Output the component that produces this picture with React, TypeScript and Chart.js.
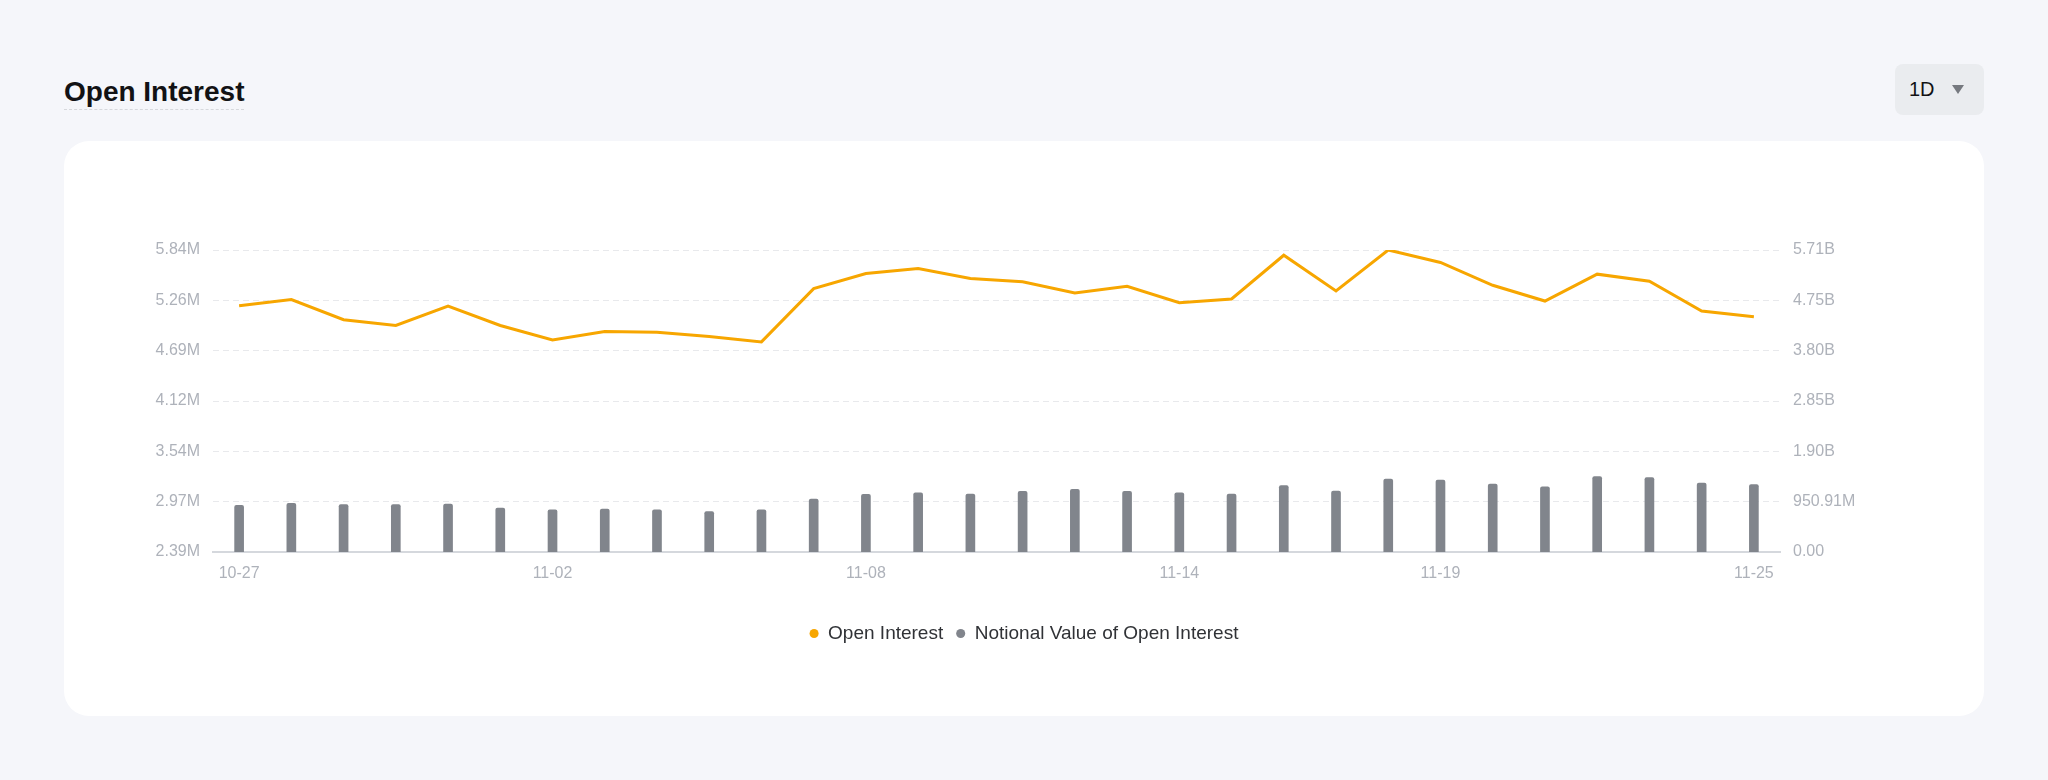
import React, { useEffect, useRef } from 'react';
import { Chart, registerables } from 'chart.js';

Chart.register(...registerables);

const dates = [
  '10-27', '10-28', '10-29', '10-30', '10-31', '11-01', '11-02', '11-03', '11-04', '11-05',
  '11-06', '11-07', '11-08', '11-09', '11-10', '11-11', '11-12', '11-13', '11-14', '11-15',
  '11-16', '11-17', '11-18', '11-19', '11-20', '11-21', '11-22', '11-23', '11-24', '11-25',
];

const openInterest = [
  5204000, 5273000, 5043000, 4978000, 5200000, 4978000, 4813000, 4909000, 4901000, 4851000,
  4790000, 5399000, 5572000, 5629000, 5514000, 5476000, 5349000, 5426000, 5238000, 5280000,
  5780000, 5372000, 5840000, 5698000, 5437000, 5257000, 5564000, 5483000, 5142000, 5077000,
];

const notionalValue = [
  882e6, 920e6, 895e6, 895e6, 907e6, 832e6, 795e6, 813e6, 795e6, 763e6,
  795e6, 1001e6, 1089e6, 1120e6, 1095e6, 1145e6, 1182e6, 1145e6, 1120e6, 1095e6,
  1257e6, 1151e6, 1376e6, 1358e6, 1282e6, 1232e6, 1426e6, 1408e6, 1301e6, 1276e6,
];

const shownDateIndexes = [0, 6, 12, 18, 23, 29];

const leftTickLabels = ['2.39M', '2.97M', '3.54M', '4.12M', '4.69M', '5.26M', '5.84M'];
const rightTickLabels = ['0.00', '950.91M', '1.90B', '2.85B', '3.80B', '4.75B', '5.71B'];

const leftMin = 2.39e6;
const leftMax = 5.84e6;
const rightMin = 0;
const rightMax = 5.70546e9;

const FONT = '"Liberation Sans", Arial, Helvetica, sans-serif';
const TICK_COLOR = '#aeb2ba';

function OpenInterestChart() {
  const ref = useRef<HTMLCanvasElement | null>(null);

  useEffect(() => {
    if (!ref.current) return;
    const steps = leftTickLabels.length - 1;
    const chart = new Chart(ref.current, {
      data: {
        labels: dates,
        datasets: [
          {
            type: 'line',
            label: 'Open Interest',
            data: openInterest,
            yAxisID: 'yL',
            borderColor: '#f7a600',
            backgroundColor: '#f7a600',
            borderWidth: 3,
            pointRadius: 0,
            tension: 0,
            order: 0,
          } as any,
          {
            type: 'bar',
            label: 'Notional Value of Open Interest',
            data: notionalValue,
            yAxisID: 'yR',
            backgroundColor: '#81858c',
            borderColor: '#81858c',
            borderWidth: 0,
            barThickness: 9,
            borderRadius: { topLeft: 2, topRight: 2, bottomLeft: 0, bottomRight: 0 },
            borderSkipped: false,
            order: 1,
          } as any,
        ],
      },
      options: {
        animation: false,
        responsive: false,
        maintainAspectRatio: false,
        layout: { padding: { top: 109, bottom: 63, left: 0, right: 0 } },
        plugins: {
          tooltip: { enabled: false },
          legend: {
            position: 'bottom',
            labels: {
              usePointStyle: true,
              pointStyle: 'circle',
              boxWidth: 9,
              boxHeight: 6.4,
              padding: 13,
              color: '#303236',
              font: { size: 19, family: FONT },
              generateLabels: (c: any) =>
                (Chart.defaults.plugins.legend.labels as any)
                  .generateLabels(c)
                  .map((l: any) => ({ ...l, lineWidth: 0, strokeStyle: l.fillStyle })),
            },
          },
        },
        scales: {
          x: {
            grid: { display: false, drawTicks: false },
            border: { display: true, color: '#d5d8dd', width: 2 },
            ticks: {
              autoSkip: false,
              maxRotation: 0,
              minRotation: 0,
              padding: 12,
              color: TICK_COLOR,
              font: { size: 16, family: FONT },
              callback: (_v: any, i: number) => (shownDateIndexes.includes(i) ? dates[i] : ''),
            },
            afterFit: (s: any) => {
              s.height = 59;
            },
          },
          yL: {
            type: 'linear',
            position: 'left',
            min: leftMin,
            max: leftMax,
            afterBuildTicks: (s: any) => {
              s.ticks = leftTickLabels.map((_l, i) => ({ value: leftMin + ((leftMax - leftMin) * i) / steps }));
            },
            ticks: {
              padding: 13,
              color: TICK_COLOR,
              font: { size: 16, family: FONT },
              callback: (_v: any, i: number) => leftTickLabels[i],
            },
            grid: { color: '#e8e9ec', drawTicks: false, lineWidth: 1 },
            border: { display: false, dash: [6, 4] },
            afterFit: (s: any) => {
              s.width = 149;
            },
          },
          yR: {
            type: 'linear',
            position: 'right',
            min: rightMin,
            max: rightMax,
            afterBuildTicks: (s: any) => {
              s.ticks = rightTickLabels.map((_l, i) => ({ value: rightMin + ((rightMax - rightMin) * i) / steps }));
            },
            ticks: {
              padding: 13,
              color: TICK_COLOR,
              font: { size: 16, family: FONT },
              callback: (_v: any, i: number) => rightTickLabels[i],
            },
            grid: { display: false, drawTicks: false },
            border: { display: false },
            afterFit: (s: any) => {
              s.width = 204;
            },
          },
        },
      } as any,
    });
    return () => chart.destroy();
  }, []);

  return (
    <canvas
      ref={ref}
      width={1920}
      height={575}
      style={{ position: 'absolute', left: 64, top: 141, width: 1920, height: 575 }}
    />
  );
}

export default function App() {
  return (
    <div
      style={{
        position: 'fixed',
        left: 0,
        top: 0,
        width: 2048,
        height: 780,
        background: '#f5f6fa',
        fontFamily: FONT,
        overflow: 'hidden',
      }}
    >
      <div
        style={{
          position: 'absolute',
          left: 64,
          top: 78,
          height: 28,
          lineHeight: '28px',
          paddingBottom: 3,
          fontSize: 28,
          fontWeight: 700,
          color: '#121214',
          borderBottom: '1px dashed #d6d8dc',
          whiteSpace: 'nowrap',
        }}
      >
        Open Interest
      </div>
      <div
        style={{
          position: 'absolute',
          left: 1895,
          top: 64,
          width: 89,
          height: 51,
          background: '#eaecef',
          borderRadius: 8,
        }}
      >
        <span
          style={{
            position: 'absolute',
            left: 14,
            top: 0,
            lineHeight: '51px',
            fontSize: 20,
            color: '#121214',
          }}
        >
          1D
        </span>
        <div
          style={{
            position: 'absolute',
            left: 57,
            top: 21,
            width: 0,
            height: 0,
            borderLeft: '6.5px solid transparent',
            borderRight: '6.5px solid transparent',
            borderTop: '9px solid #76797f',
          }}
        />
      </div>
      <div
        style={{
          position: 'absolute',
          left: 64,
          top: 141,
          width: 1920,
          height: 575,
          background: '#ffffff',
          borderRadius: 25,
        }}
      />
      <OpenInterestChart />
    </div>
  );
}
